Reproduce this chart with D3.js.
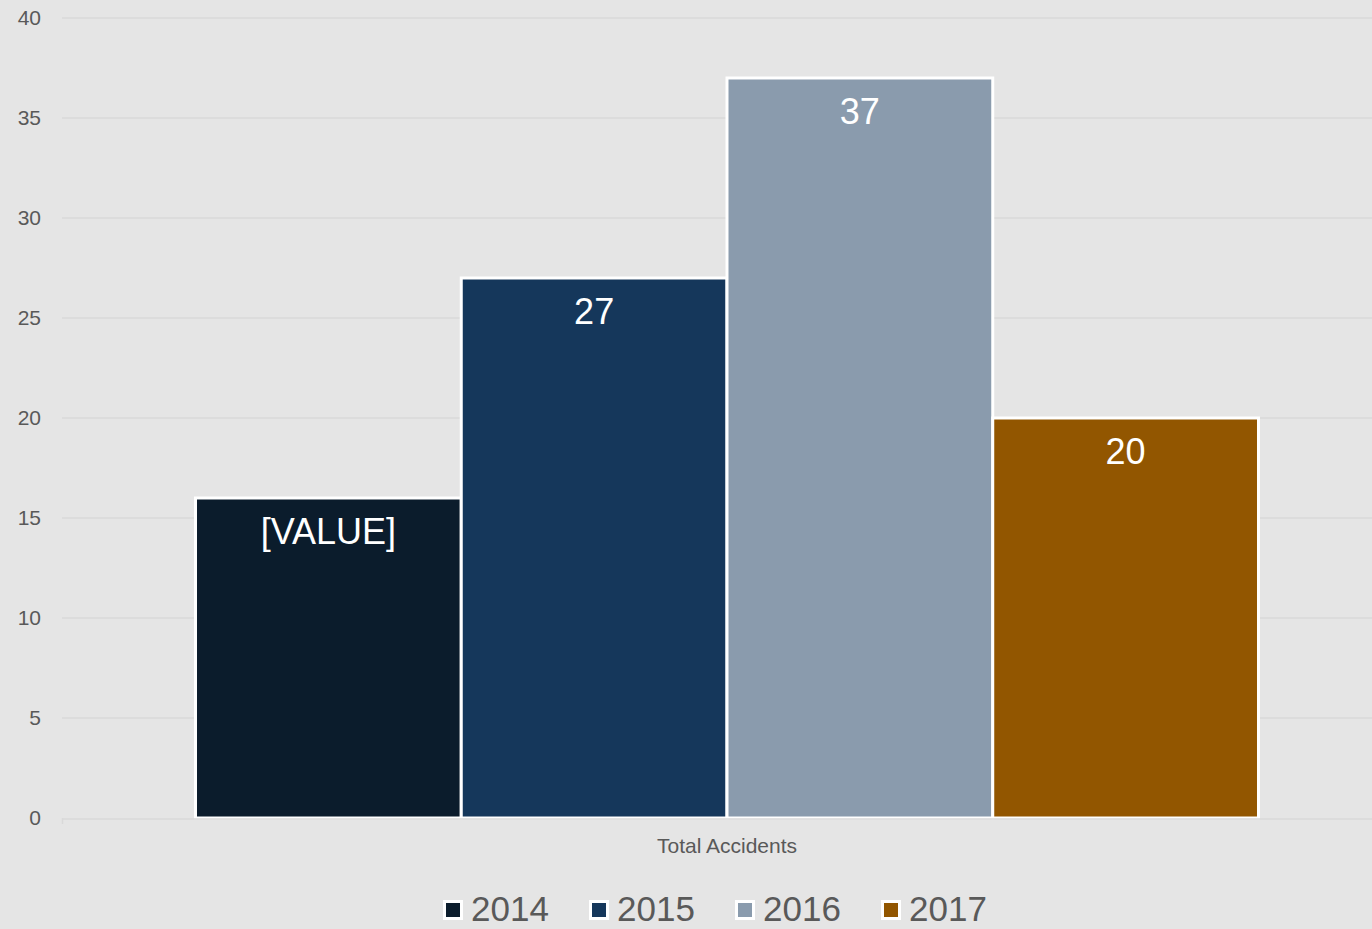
<!DOCTYPE html>
<html>
<head>
<meta charset="utf-8">
<script src="https://cdn.jsdelivr.net/npm/d3@7"></script>
<style>
  body { margin: 0; background: #e5e5e5; }
  svg { display: block; font-family: "Liberation Sans", Arial, sans-serif; }
</style>
</head>
<body>
<div id="chart"></div>
<script>
const categories = ["Total Accidents"];
const years = ["2014", "2015", "2016", "2017"];
const values = [16, 27, 37, 20];
const labels = ["[VALUE]", "27", "37", "20"];
const colors = ["#0b1c2c", "#15375b", "#8a9bad", "#925600"];
const yTicks = [0, 5, 10, 15, 20, 25, 30, 35, 40];

const width = 1372;
const height = 929;
const margin = {top: 18, right: -20, bottom: 111, left: 62};

const svg = d3.select("#chart")
    .append("svg")
    .attr("width", width)
    .attr("height", height);

svg.append("rect").attr("width", width).attr("height", height).attr("fill", "#e5e5e5");

const y = d3.scaleLinear()
    .domain([0, 40])
    .range([height - margin.bottom, margin.top]);

const x0 = d3.scaleBand()
    .domain(categories)
    .range([margin.left, width - margin.right])
    .paddingInner(0)
    .paddingOuter(0.1256);

const x1 = d3.scaleBand()
    .domain(years)
    .range([0, x0.bandwidth()]);

// gridlines
svg.append("g")
    .selectAll("line")
    .data(yTicks.filter(d => d > 0))
    .join("line")
    .attr("x1", margin.left)
    .attr("x2", width)
    .attr("y1", d => y(d))
    .attr("y2", d => y(d))
    .attr("stroke", "#d9d9d9")
    .attr("stroke-width", 1.5);

// y labels
svg.append("g")
    .selectAll("text")
    .data(yTicks)
    .join("text")
    .attr("x", 41)
    .attr("y", d => y(d))
    .attr("dy", "0.35em")
    .attr("text-anchor", "end")
    .attr("fill", "#595959")
    .attr("font-size", 21)
    .text(d => d);

// bars
const g = svg.append("g")
    .attr("transform", `translate(${x0(categories[0])},0)`);

g.selectAll("rect")
    .data(years)
    .join("rect")
    .attr("x", d => x1(d))
    .attr("y", (d, i) => y(values[i]))
    .attr("width", x1.bandwidth())
    .attr("height", (d, i) => y(0) - y(values[i]))
    .attr("fill", (d, i) => colors[i])
    .attr("stroke", "#ffffff")
    .attr("stroke-width", 3);

g.selectAll("text")
    .data(years)
    .join("text")
    .attr("x", d => x1(d) + x1.bandwidth() / 2)
    .attr("y", (d, i) => y(values[i]) + 46)
    .attr("text-anchor", "middle")
    .attr("fill", "#ffffff")
    .attr("font-size", 36)
    .text((d, i) => labels[i]);

// x axis line
svg.append("line")
    .attr("x1", margin.left)
    .attr("x2", width)
    .attr("y1", y(0) + 1)
    .attr("y2", y(0) + 1)
    .attr("stroke", "#d9d9d9")
    .attr("stroke-width", 1.5);
svg.append("line")
    .attr("x1", margin.left + 0.5)
    .attr("x2", margin.left + 0.5)
    .attr("y1", y(0))
    .attr("y2", y(0) + 6)
    .attr("stroke", "#d9d9d9")
    .attr("stroke-width", 1.5);

svg.append("text")
    .attr("x", x0(categories[0]) + x0.bandwidth() / 2)
    .attr("y", 853)
    .attr("text-anchor", "middle")
    .attr("fill", "#595959")
    .attr("font-size", 21)
    .text(categories[0]);

// legend
const legend = svg.append("g")
    .selectAll("g")
    .data(years)
    .join("g")
    .attr("transform", (d, i) => `translate(${443 + i * 146},0)`);

legend.append("rect")
    .attr("x", 1.5)
    .attr("y", 901.5)
    .attr("width", 17)
    .attr("height", 17)
    .attr("fill", (d, i) => colors[i])
    .attr("stroke", "#ffffff")
    .attr("stroke-width", 3);

legend.append("text")
    .attr("x", 28)
    .attr("y", 921)
    .attr("fill", "#595959")
    .attr("font-size", 35)
    .text(d => d);
</script>
</body>
</html>
